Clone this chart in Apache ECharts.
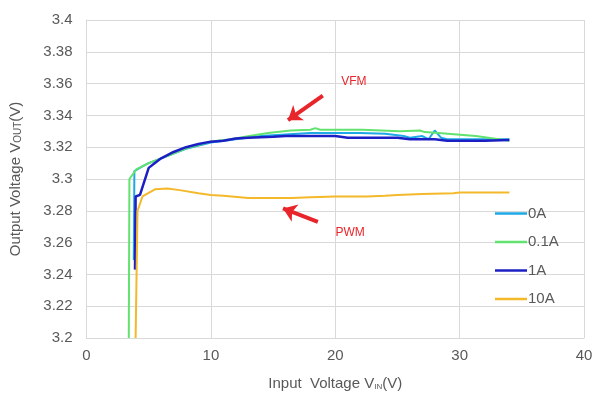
<!DOCTYPE html>
<html>
<head>
<meta charset="utf-8">
<script src="https://cdn.jsdelivr.net/npm/echarts@6/dist/echarts.min.js"></script>
<style>
  html, body { margin: 0; padding: 0; background: #fff; }
  #main { width: 602px; height: 397px; }
</style>
</head>
<body>
<div id="main"></div>
<script>
// 图例名称
var names = ['0A', '0.1A', '1A', '10A'];
var colors = ['#1ea8e6', '#62e26e', '#1c1fc4', '#f4b92a'];

// 输入电压 / 输出电压
var vin0A = [3.8, 3.85, 4.5, 5, 6, 7, 8, 10, 12, 14, 16, 18, 20, 22, 24, 25.5, 26, 27, 27.5, 28, 28.5, 29, 31, 34];
var vout0A = [3.249, 3.305, 3.308, 3.310, 3.313, 3.316, 3.319, 3.323, 3.325, 3.327, 3.328, 3.329, 3.329, 3.329, 3.3285, 3.327, 3.326, 3.327, 3.325, 3.3305, 3.326, 3.325, 3.325, 3.325];

var vin01A = [3.4, 3.45, 4, 5, 6.7, 7.9, 10, 11.6, 13.1, 14.6, 16.4, 18, 18.4, 18.8, 20, 22.2, 25.2, 26.8, 27.2, 28.3, 31.3, 34];
var vout01A = [3.2, 3.3, 3.306, 3.31, 3.315, 3.319, 3.3236, 3.325, 3.327, 3.329, 3.3305, 3.331, 3.332, 3.331, 3.331, 3.331, 3.330, 3.3305, 3.3295, 3.329, 3.327, 3.324];

var vin1A = [3.9, 3.95, 4.3, 5.0, 5.5, 6, 7, 8, 9, 10, 11, 12, 13, 15, 16, 18, 20, 21, 25, 26, 28, 29, 32, 34];
var vout1A = [3.243, 3.289, 3.29, 3.307, 3.310, 3.313, 3.317, 3.320, 3.322, 3.3235, 3.324, 3.3255, 3.326, 3.3265, 3.327, 3.327, 3.327, 3.326, 3.326, 3.325, 3.325, 3.324, 3.324, 3.3245];

var vin10A = [3.95, 4.1, 4.5, 5.5, 6.5, 7.5, 9, 10, 11, 13, 15, 16.5, 18, 20, 22.5, 24, 25, 27, 29.5, 30, 34];
var vout10A = [3.2, 3.28, 3.289, 3.2935, 3.294, 3.293, 3.291, 3.290, 3.2895, 3.288, 3.288, 3.288, 3.2885, 3.289, 3.289, 3.2895, 3.290, 3.2905, 3.291, 3.2915, 3.2915];

// 注释（数据坐标）
var vfmArrow = [[19.0, 3.3525], [16.2, 3.337]];
var pwmArrow = [[18.6, 3.273], [15.8, 3.2815]];
var vfmText = [21.5, 3.3615];
var pwmText = [21.2, 3.2665];

function zip(a, b) {
  var out = [];
  for (var i = 0; i < a.length; i++) out.push([a[i], b[i]]);
  return out;
}

var myChart = echarts.init(document.getElementById('main'));

var gray = '#d9d9d9';
var txt = '#595959';
var font = 'Liberation Sans, Arial, sans-serif';

var seriesData = [zip(vin0A, vout0A), zip(vin01A, vout01A), zip(vin1A, vout1A), zip(vin10A, vout10A)];
var series = names.map(function(n, i) {
  return {
    name: n,
    type: 'line',
    data: seriesData[i],
    showSymbol: false,
    symbol: 'none',
    lineStyle: { width: i === 2 ? 2.5 : 2, color: colors[i] },
    itemStyle: { color: colors[i] },
    animation: false,
    z: 2 + i
  };
});

// 箭头和文字
series.push({
  type: 'line',
  data: [],
  silent: true,
  animation: false,
  markLine: {
    silent: true,
    symbol: ['none', 'arrow'],
    symbolSize: [14, 13],
    label: { show: false },
    lineStyle: { color: '#e8252b', width: 4, type: 'solid' },
    data: [
      [{ coord: vfmArrow[0] }, { coord: vfmArrow[1] }],
      [{ coord: pwmArrow[0] }, { coord: pwmArrow[1] }]
    ]
  },
  markPoint: {
    silent: true,
    symbol: 'circle',
    symbolSize: 0,
    label: { show: true, color: '#e8252b', fontSize: 12, fontFamily: font, position: 'inside' },
    data: [
      { coord: vfmText, value: 'VFM', label: { formatter: 'VFM' } },
      { coord: pwmText, value: 'PWM', label: { formatter: 'PWM' } }
    ]
  }
});

var option = {
  animation: false,
  textStyle: { fontFamily: font },
  grid: { left: 86, right: 18, top: 20, bottom: 59 },
  legend: {
    data: names,
    orient: 'vertical',
    left: 490,
    top: 201,
    itemGap: 13.5,
    itemWidth: 32,
    itemHeight: 2.5,
    icon: 'rect',
    textStyle: { color: txt, fontSize: 15, fontFamily: font, padding: [0, 0, 0, -4] }
  },
  xAxis: {
    type: 'value',
    min: 0,
    max: 40,
    interval: 10,
    name: 'Input  Voltage V{sub|IN}(V)',
    nameLocation: 'middle',
    nameGap: 38,
    nameTextStyle: {
      color: txt, fontSize: 15, fontFamily: font,
      rich: { sub: { fontSize: 8, color: txt, verticalAlign: 'bottom', padding: [6, 0, 0, 0] } }
    },
    axisLine: { show: true, lineStyle: { color: gray } },
    axisTick: { show: false },
    axisLabel: { color: txt, fontSize: 15, margin: 10 },
    splitLine: { show: true, lineStyle: { color: gray } }
  },
  yAxis: {
    type: 'value',
    min: 3.2,
    max: 3.4,
    interval: 0.02,
    name: 'Output Voltage V{sub|OUT}(V)',
    nameLocation: 'middle',
    nameGap: 63,
    nameTextStyle: {
      color: txt, fontSize: 15, fontFamily: font,
      rich: { sub: { fontSize: 10, color: txt, padding: [6, 0, 0, 0] } }
    },
    axisLine: { show: true, lineStyle: { color: gray } },
    axisTick: { show: false },
    axisLabel: {
      color: txt, fontSize: 15, margin: 14,
      formatter: function(v) { return String(+v.toFixed(2)); }
    },
    splitLine: { show: true, lineStyle: { color: gray } }
  },
  series: series
};

myChart.setOption(option);
</script>
</body>
</html>
